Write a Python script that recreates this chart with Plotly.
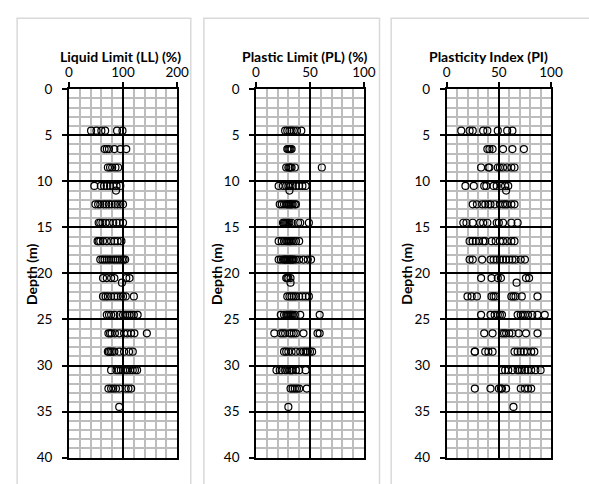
import plotly.graph_objects as go

W, H = 589, 484

# Sample depths (m) and index properties read per depth
ll_by_depth = {
    4.5: [41, 51, 60, 67, 89, 99],
    6.5: [66, 70, 74, 84, 95, 106],
    8.5: [72, 76, 80, 86, 91],
    10.5: [47, 59, 65, 70, 76, 82, 88, 95],
    11.0: [87],
    12.5: [49, 54, 58, 64, 69, 74, 79, 85, 90, 95, 100],
    14.5: [55, 58, 62, 68, 75, 82, 88, 93, 100],
    16.5: [53, 55, 58, 63, 70, 78, 84, 90, 97],
    18.5: [58, 62, 66, 70, 74, 78, 82, 86, 90, 94, 98, 101, 104],
    20.5: [63, 70, 78, 84, 106, 112],
    21.0: [98],
    22.5: [63, 68, 72, 78, 84, 90, 96, 100, 105, 120],
    24.5: [70, 74, 78, 84, 94, 100, 104, 108, 112, 116, 120, 127],
    26.5: [73, 76, 79, 85, 93, 102, 108, 115, 121, 144],
    28.5: [72, 74, 77, 80, 84, 93, 102, 111, 118],
    30.5: [78, 88, 92, 96, 100, 104, 108, 113, 118, 122, 126],
    32.5: [73, 78, 82, 87, 93, 105, 110, 115],
    34.5: [93],
}

pl_by_depth = {
    4.5: [27, 29, 31, 33, 35, 38, 42],
    6.5: [29, 30, 31, 32, 33],
    8.5: [28, 30, 31, 32, 33, 36, 61],
    10.5: [21, 25, 28, 30, 32, 34, 37, 40, 43, 46],
    11.0: [31],
    12.5: [22, 24, 26, 28, 29, 30, 31, 32, 33, 34, 36, 37],
    14.5: [25, 26, 27, 28, 29, 30, 31, 33, 39, 41, 49],
    16.5: [21, 24, 26, 28, 29, 30, 31, 32, 33, 35, 37, 40],
    18.5: [21, 23, 25, 26, 27, 28, 29, 30, 31, 32, 33, 34, 35, 37, 40, 44, 48, 51],
    20.5: [28, 29, 30, 32],
    21.0: [32],
    22.5: [29, 31, 33, 35, 37, 40, 43, 46, 49],
    24.5: [23, 26, 28, 29, 30, 31, 32, 33, 34, 36, 41, 59],
    26.5: [17, 23, 25, 27, 31, 33, 35, 37, 44, 57, 59],
    28.5: [26, 28, 30, 33, 37, 41, 44, 46, 48, 50, 52],
    30.5: [19, 22, 24, 27, 29, 31, 32, 33, 34, 37, 40, 46],
    32.5: [32, 34, 36, 38, 40, 47],
    34.5: [30],
}

pi_by_depth = {
    4.5: [14, 22, 25, 35, 39, 49, 58, 63],
    6.5: [39, 41, 44, 54, 63, 74],
    8.5: [33, 40, 41, 49, 51, 54, 58, 62, 65],
    10.5: [18, 26, 36, 38, 45, 48, 52, 56, 59],
    11.0: [57],
    12.5: [25, 29, 34, 37, 40, 42, 46, 51, 54, 56, 58, 62, 65],
    14.5: [16, 19, 25, 32, 35, 39, 48, 50, 54, 62, 68],
    16.5: [22, 25, 28, 31, 35, 37, 43, 47, 51, 54, 58, 62, 65],
    18.5: [22, 25, 34, 42, 45, 48, 51, 54, 57, 60, 63, 66, 71, 75],
    20.5: [33, 43, 49, 52, 76, 79],
    21.0: [67],
    22.5: [20, 24, 29, 43, 45, 47, 62, 64, 66, 72, 87],
    24.5: [33, 42, 46, 49, 51, 53, 68, 71, 73, 75, 78, 82, 87, 94],
    26.5: [36, 44, 53, 55, 57, 60, 63, 69, 76, 87],
    28.5: [27, 27, 37, 40, 44, 65, 68, 71, 74, 77, 81, 84],
    30.5: [53, 56, 59, 63, 68, 70, 72, 75, 78, 81, 85, 90],
    32.5: [27, 42, 50, 52, 53, 57, 71, 75, 78, 81],
    34.5: [64],
}

titles = ["Liquid Limit (LL) (%)", "Plastic Limit (PL) (%)", "Plasticity Index (PI)"]
x_ranges = [(0, 200), (0, 100), (0, 100)]
x_major = [100, 50, 50]
x_minor = [20, 10, 10]
depth_ticks = [0, 5, 10, 15, 20, 25, 30, 35, 40]
y_title = "Depth (m)"

FONT = "Lato"
MINOR_GRID = "#bdbdbd"
FRAME = "#d9d9d9"


def fx(px):
    return px / W


def fy(py):
    return 1 - py / H


# plot-area pixel extents of each panel
plot_x = [(66.7, 178.0), (259.0, 370.0), (455.0, 562.3)]
plot_y = (84.0, 465.0)
frame_x = [(13.5, 192.0), (205.5, 386.0), (398.0, 620.0)]
xtitle_cx = [120, 309, 498]
ytitle_cx = [29, 219, 414]

fig = go.Figure()

datasets = [ll_by_depth, pl_by_depth, pi_by_depth]
for i, data in enumerate(datasets):
    xs, ys = [], []
    for d, vals in data.items():
        xs.extend(vals)
        ys.extend([d] * len(vals))
    suffix = "" if i == 0 else str(i + 1)
    fig.add_trace(go.Scatter(
        x=xs, y=ys, mode="markers",
        xaxis="x" + suffix, yaxis="y" + suffix,
        marker=dict(symbol="circle-open", size=7, color="black",
                    line=dict(width=1.2, color="black")),
        showlegend=False, hoverinfo="x+y",
    ))

    xa = dict(
        domain=[fx(plot_x[i][0]), fx(plot_x[i][1])],
        range=list(x_ranges[i]), side="top", anchor="y" + suffix,
        tickmode="linear", tick0=0, dtick=x_major[i],
        showgrid=True, gridcolor="black", gridwidth=1.5,
        showline=True, linecolor="black", linewidth=1.5, mirror=True,
        ticks="outside", ticklen=5, tickwidth=1.5, tickcolor="black",
        zeroline=False,
        tickfont=dict(family=FONT, size=13.5, color="black"),
        minor=dict(dtick=x_minor[i], tick0=0, showgrid=True,
                   gridcolor=MINOR_GRID, gridwidth=1.5, ticks=""),
        fixedrange=True,
    )
    ya = dict(
        domain=[fy(plot_y[1]), fy(plot_y[0])],
        range=[40, 0], anchor="x" + suffix,
        tickmode="array", tickvals=depth_ticks,
        showgrid=True, gridcolor="black", gridwidth=1.5,
        showline=True, linecolor="black", linewidth=1.5, mirror=True,
        ticks="outside", ticklen=5, tickwidth=1.5, tickcolor="black",
        ticklabelstandoff=7,
        zeroline=False,
        tickfont=dict(family=FONT, size=13.5, color="black"),
        minor=dict(dtick=1, tick0=0, showgrid=True,
                   gridcolor=MINOR_GRID, gridwidth=1.5, ticks=""),
        fixedrange=True,
    )
    fig.update_layout(**{"xaxis" + suffix: xa, "yaxis" + suffix: ya})

    # chart frame
    fig.add_shape(type="rect", xref="paper", yref="paper",
                  x0=fx(frame_x[i][0]), x1=fx(frame_x[i][1]),
                  y0=fy(520), y1=fy(10.5),
                  line=dict(color=FRAME, width=1.5), layer="below")

    fig.add_annotation(text="<b>" + titles[i] + "</b>", xref="paper", yref="paper",
                       x=fx(xtitle_cx[i]), y=fy(50), xanchor="center", yanchor="middle",
                       showarrow=False, font=dict(family=FONT, size=14, color="black"))
    fig.add_annotation(text="<b>" + y_title + "</b>", xref="paper", yref="paper",
                       x=fx(ytitle_cx[i]), y=fy(275), xanchor="center", yanchor="middle",
                       textangle=-90, showarrow=False,
                       font=dict(family=FONT, size=14, color="black"))

fig.update_layout(
    width=W, height=H,
    margin=dict(l=0, r=0, t=0, b=0),
    paper_bgcolor="white", plot_bgcolor="white",
    font=dict(family=FONT, size=13, color="black"),
)

fig.write_html("out.html")
